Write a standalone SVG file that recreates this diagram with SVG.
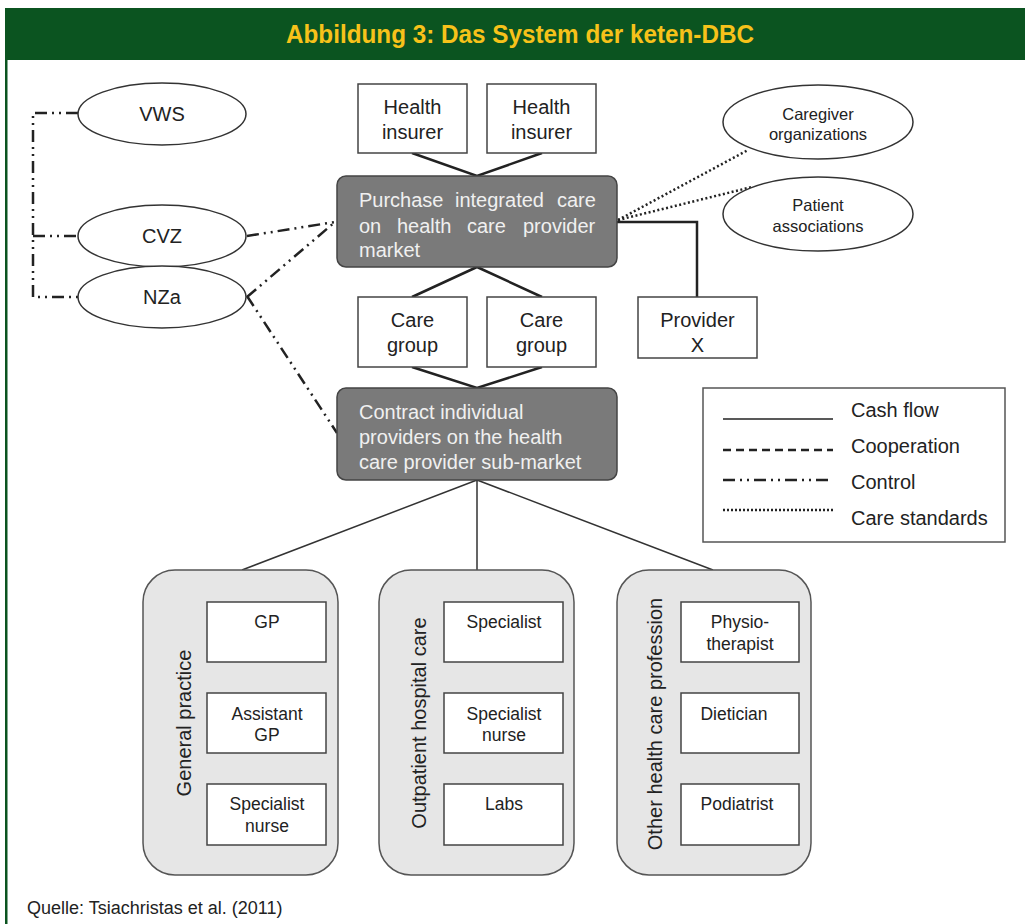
<svg xmlns="http://www.w3.org/2000/svg" width="1025" height="924" viewBox="0 0 1025 924">
<style>
text{font-family:"Liberation Sans",Arial,sans-serif;fill:#222}
.box{fill:#fff;stroke:#444;stroke-width:1.5}
.ell{fill:#fff;stroke:#333;stroke-width:1.5}
.dark{fill:#7a7a7a;stroke:#444;stroke-width:1.5}
.grp{fill:#e6e6e6;stroke:#555;stroke-width:1.5}
.t20{font-size:20px}
.t17{font-size:17.5px}
.t16{font-size:16.5px}
.wt{fill:#f0f0f0;font-size:20px}
.cash{fill:none;stroke:#222;stroke-width:2.5}
.cashthin{fill:none;stroke:#333;stroke-width:1.5}
.coop{fill:none;stroke:#333;stroke-width:1.5;stroke-dasharray:6 4}
.ctrl{fill:none;stroke:#222;stroke-width:2.5;stroke-dasharray:12 5 2 5 2 5}
.dot{fill:none;stroke:#222;stroke-width:2.5;stroke-dasharray:2 2.5}
</style>
<rect x="0" y="0" width="1025" height="924" fill="#fff"/>
<g id="header">
<rect x="5" y="8" width="1020" height="52" fill="#0b5420"/>
<rect x="5" y="60" width="2.5" height="864" fill="#0b5420"/>
<text x="286" y="43" textLength="468" lengthAdjust="spacingAndGlyphs" style="font-size:25px;font-weight:bold;fill:#f7c21a">Abbildung 3: Das System der keten-DBC</text>
</g>
<g id="connectors">
<path class="ctrl" d="M78,113 H33 V297 H78"/>
<path class="ctrl" d="M33,236 H78"/>
<path class="ctrl" d="M247,236 L335,222"/>
<path class="ctrl" d="M247,297 L335,222"/>
<path class="ctrl" d="M247,296 L337,433"/>
<path class="cash" d="M412,153 L477,176 L542,153"/>
<path class="cash" d="M412,297 L477,267 L542,297"/>
<path class="cash" d="M412,367 L477,388 L542,367"/>
<path class="cash" d="M617,222 H697 V297"/>
<path class="dot" d="M618,220 L748,150"/>
<path class="dot" d="M618,220 L752,187"/>
<path class="cashthin" d="M477,480 L242,570 M477,480 V570 M477,480 L713,570"/>
<path class="coop" d="M267,662 V693 M267,753 V784"/>
<path class="coop" d="M504,662 V693 M504,753 V784"/>
</g>
<g id="vws"><ellipse class="ell" cx="162" cy="114" rx="84" ry="31"/><text class="t20" x="162" y="121" text-anchor="middle">VWS</text></g>
<g id="cvz"><ellipse class="ell" cx="162" cy="236" rx="84" ry="31"/><text class="t20" x="162" y="243" text-anchor="middle">CVZ</text></g>
<g id="nza"><ellipse class="ell" cx="162" cy="297" rx="84" ry="31"/><text class="t20" x="162" y="304" text-anchor="middle">NZa</text></g>
<g id="insurer1"><rect class="box" x="358" y="84" width="109" height="69"/><text class="t20" x="412.5" y="114" text-anchor="middle">Health</text><text class="t20" x="412.5" y="139" text-anchor="middle">insurer</text></g>
<g id="insurer2"><rect class="box" x="487" y="84" width="109" height="69"/><text class="t20" x="541.5" y="114" text-anchor="middle">Health</text><text class="t20" x="541.5" y="139" text-anchor="middle">insurer</text></g>
<g id="purchase">
<rect class="dark" x="337" y="176" width="280" height="91" rx="9"/>
<text class="wt" y="207"><tspan x="359">Purchase</tspan><tspan x="455">integrated</tspan><tspan x="557">care</tspan></text>
<text class="wt" y="233"><tspan x="359">on</tspan><tspan x="397">health</tspan><tspan x="467">care</tspan><tspan x="523">provider</tspan></text>
<text class="wt" x="359" y="257">market</text>
</g>
<g id="caregiver"><ellipse class="ell" cx="818" cy="122" rx="95" ry="37"/><text class="t16" x="818" y="120" text-anchor="middle">Caregiver</text><text class="t16" x="818" y="140" text-anchor="middle">organizations</text></g>
<g id="patient"><ellipse class="ell" cx="818" cy="214" rx="95" ry="37"/><text class="t16" x="818" y="211" text-anchor="middle">Patient</text><text class="t16" x="818" y="232" text-anchor="middle">associations</text></g>
<g id="caregroup1"><rect class="box" x="358" y="297" width="109" height="70"/><text class="t20" x="412.5" y="327" text-anchor="middle">Care</text><text class="t20" x="412.5" y="352" text-anchor="middle">group</text></g>
<g id="caregroup2"><rect class="box" x="487" y="297" width="109" height="70"/><text class="t20" x="541.5" y="327" text-anchor="middle">Care</text><text class="t20" x="541.5" y="352" text-anchor="middle">group</text></g>
<g id="providerx"><rect class="box" x="638" y="297" width="119" height="61"/><text class="t20" x="697.5" y="327" text-anchor="middle">Provider</text><text class="t20" x="697.5" y="352" text-anchor="middle">X</text></g>
<g id="contract">
<rect class="dark" x="337" y="388" width="280" height="92" rx="9"/>
<text class="wt" x="359" y="419">Contract individual</text>
<text class="wt" x="359" y="444">providers on the health</text>
<text class="wt" x="359" y="469">care provider sub-market</text>
</g>
<g id="legend">
<rect x="703" y="388" width="302" height="154" fill="#fff" stroke="#555" stroke-width="1.5"/>
<path d="M723,419 H833" stroke="#222" stroke-width="1.5"/>
<path d="M723,450 H833" stroke="#222" stroke-width="2.5" stroke-dasharray="8 5"/>
<path d="M723,480 H833" stroke="#222" stroke-width="2.5" stroke-dasharray="12 5 2 5 2 5"/>
<path d="M723,510 H833" stroke="#222" stroke-width="2.5" stroke-dasharray="2 2"/>
<text class="t20" x="851" y="417">Cash flow</text>
<text class="t20" x="851" y="453">Cooperation</text>
<text class="t20" x="851" y="489">Control</text>
<text class="t20" x="851" y="525">Care standards</text>
</g>
<g id="general-practice">
<rect class="grp" x="143" y="570" width="195" height="305" rx="32"/>
<text class="t20" transform="translate(191,723) rotate(-90)" text-anchor="middle">General practice</text>
</g>
<g id="gp"><rect class="box" x="207" y="602" width="119" height="60"/><text class="t17" x="267" y="628" text-anchor="middle">GP</text></g>
<g id="assistant-gp"><rect class="box" x="207" y="693" width="119" height="60"/><text class="t17" x="267" y="720" text-anchor="middle">Assistant</text><text class="t17" x="267" y="741" text-anchor="middle">GP</text></g>
<g id="specialist-nurse-1"><rect class="box" x="207" y="784" width="119" height="61"/><text class="t17" x="267" y="810" text-anchor="middle">Specialist</text><text class="t17" x="267" y="832" text-anchor="middle">nurse</text></g>
<g id="outpatient">
<rect class="grp" x="379" y="570" width="195" height="305" rx="32"/>
<text class="t20" transform="translate(426,723) rotate(-90)" text-anchor="middle">Outpatient hospital care</text>
</g>
<g id="specialist"><rect class="box" x="444" y="602" width="119" height="60"/><text class="t17" x="504" y="628" text-anchor="middle">Specialist</text></g>
<g id="specialist-nurse-2"><rect class="box" x="444" y="693" width="119" height="60"/><text class="t17" x="504" y="720" text-anchor="middle">Specialist</text><text class="t17" x="504" y="741" text-anchor="middle">nurse</text></g>
<g id="labs"><rect class="box" x="444" y="784" width="119" height="61"/><text class="t17" x="504" y="810" text-anchor="middle">Labs</text></g>
<g id="other">
<rect class="grp" x="617" y="570" width="194" height="305" rx="32"/>
<text class="t20" transform="translate(662,724) rotate(-90)" text-anchor="middle">Other health care profession</text>
</g>
<g id="physio"><rect class="box" x="681" y="602" width="118" height="60"/><text class="t17" x="740" y="628" text-anchor="middle">Physio-</text><text class="t17" x="740" y="650" text-anchor="middle">therapist</text></g>
<g id="dietician"><rect class="box" x="681" y="693" width="118" height="60"/><text class="t17" x="734" y="720" text-anchor="middle">Dietician</text></g>
<g id="podiatrist"><rect class="box" x="681" y="784" width="118" height="61"/><text class="t17" x="737" y="810" text-anchor="middle">Podiatrist</text></g>
<g id="source"><text x="27" y="914" style="font-size:18px">Quelle: Tsiachristas et al. (2011)</text></g>
</svg>
